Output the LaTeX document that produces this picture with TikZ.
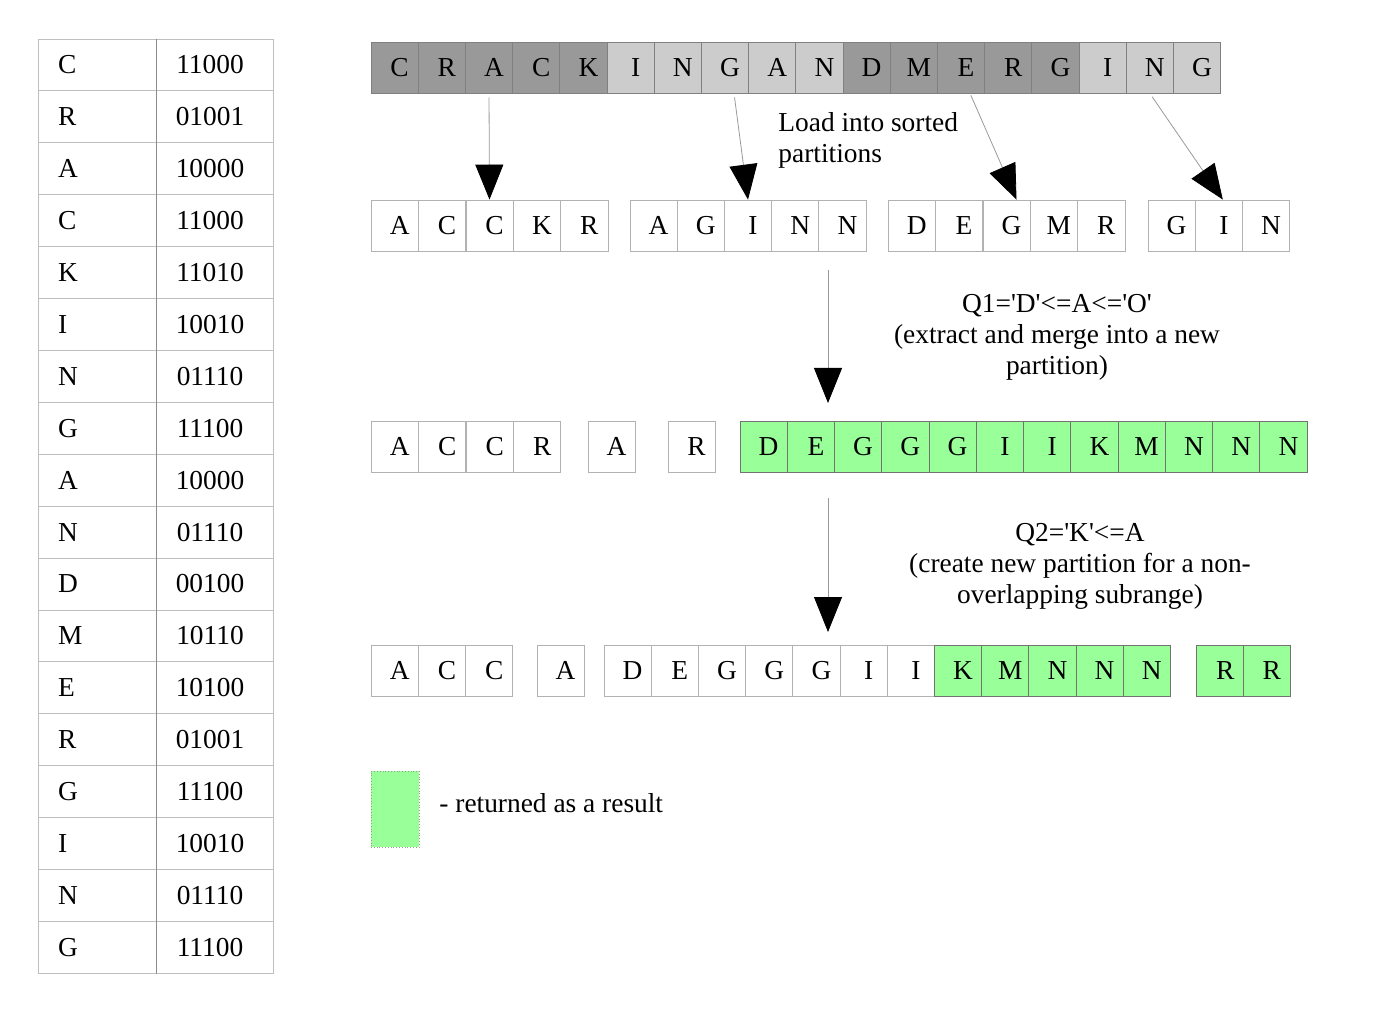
\documentclass[tikz,border=0pt]{standalone}
\usepackage{fontspec}
\setmainfont{Liberation Serif}
\usetikzlibrary{arrows.meta}
\definecolor{hitgreen}{HTML}{99FF99}
\definecolor{darkpart}{HTML}{999999}
\definecolor{lightpart}{HTML}{CCCCCC}
\tikzstyle{cell} = [draw=black!30, rectangle, minimum width=23.6pt, minimum height=25.5pt, inner sep=0pt, execute at begin node={\kern5pt}]
\tikzstyle{darkcell} = [cell, fill=darkpart, draw=black!50]
\tikzstyle{lightcell} = [cell, fill=lightpart, draw=black!50]
\tikzstyle{plaincell} = [cell, fill=white]
\tikzstyle{hitcell} = [cell, fill=hitgreen, draw=black!55]
\tikzstyle{keycell} = [draw=black!25, rectangle, minimum height=25.95pt, inner xsep=10pt, text width=39pt, align=left]
\tikzstyle{codecell} = [draw=black!25, rectangle, minimum height=25.95pt, minimum width=58.5pt, execute at end node={\kern4.5pt}]
\tikzstyle{loadarrow} = [draw=black!40, -{Triangle[length=17.5pt, width=14pt, color=black]}]

\begin{document}
\begin{tikzpicture}[x=0.5pt, y=-0.5pt, font=\fontsize{13.7}{15.5}\selectfont]
\useasboundingbox (0,0) rectangle (1379,1031);

% letter codes
\foreach \k/\c [count=\i] in {C/11000, R/01001, A/10000, C/11000, K/11010, I/10010,
    N/01110, G/11100, A/10000, N/01110, D/00100, M/10110, E/10100, R/01001,
    G/11100, I/10010, N/01110, G/11100} {
  \node[keycell] (key\i) at (97, {39+51.9*(\i-0.5)}) {\k};
  \node[codecell] (code\i) at (214.5, {39+51.9*(\i-0.5)}) {\c};
}
\draw[black!45] (key1.north east) -- (key18.south east);

% input column
\foreach \l/\s [count=\i] in {C/darkcell, R/darkcell, A/darkcell, C/darkcell, K/darkcell,
    I/lightcell, N/lightcell, G/lightcell, A/lightcell, N/lightcell,
    D/darkcell, M/darkcell, E/darkcell, R/darkcell, G/darkcell,
    I/lightcell, N/lightcell, G/lightcell}
  \node[\s] (top\i) at ({371+47.2*(\i-0.5)}, 67.5) {\l};

% sorted partitions
\foreach \l [count=\i] in {A,C,C,K,R}
  \node[plaincell] (pa\i) at ({371+47.4*(\i-0.5)}, 225.5) {\l};
\foreach \l [count=\i] in {A,G,I,N,N}
  \node[plaincell] (pb\i) at ({630+47.2*(\i-0.5)}, 225.5) {\l};
\foreach \l [count=\i] in {D,E,G,M,R}
  \node[plaincell] (pc\i) at ({888+47.4*(\i-0.5)}, 225.5) {\l};
\foreach \l [count=\i] in {G,I,N}
  \node[plaincell] (pd\i) at ({1148+47.2*(\i-0.5)}, 225.5) {\l};

\draw[loadarrow, shorten <=2pt] (top3.south) -- (pa3.north);
\draw[loadarrow, shorten <=2pt] ([xshift=4.5pt]top8.south) -- (pb3.north);
\draw[loadarrow, shorten <=1pt] ([xshift=4.5pt]top13.south) -- ([xshift=5pt]pc3.north);
\draw[loadarrow, shorten <=2pt] (top17.south) -- ([xshift=2pt]pd2.north);

\node[anchor=west, align=left, inner xsep=0pt] (loadtxt) at (778, 140.5) {Load into sorted\\partitions};

% after Q1
\coordinate (qa1) at (828, 270);
\coordinate (qa2) at (828, 403);
\draw[loadarrow] (qa1) -- (qa2);
\node[align=center] (q1txt) at (1057, 337.5) {Q1=\textquotesingle D\textquotesingle<=A<=\textquotesingle O\textquotesingle\\(extract and merge into a new\\partition)};

\foreach \l [count=\i] in {A,C,C,R}
  \node[plaincell] (ra\i) at ({371+47.5*(\i-0.5)}, 446.5) {\l};
\node[plaincell] (rb1) at (611.5, 446.5) {A};
\node[plaincell] (rc1) at (691.5, 446.5) {R};
\foreach \l [count=\i] in {D,E,G,G,G,I,I,K,M,N,N,N}
  \node[hitcell] (rd\i) at ({740+47.25*(\i-0.5)}, 446.5) {\l};

% after Q2
\coordinate (qb1) at (828, 498);
\coordinate (qb2) at (828, 632);
\draw[loadarrow] (qb1) -- (qb2);
\node[align=center] (q2txt) at (1080, 566) {Q2=\textquotesingle K\textquotesingle<=A\\(create new partition for a non-\\overlapping subrange)};

\foreach \l [count=\i] in {A,C,C}
  \node[plaincell] (sa\i) at ({371+47.3*(\i-0.5)}, 670.5) {\l};
\node[plaincell] (sb1) at (560.5, 670.5) {A};
\foreach \l/\s [count=\i] in {D/plaincell, E/plaincell, G/plaincell, G/plaincell,
    G/plaincell, I/plaincell, I/plaincell, K/hitcell, M/hitcell, N/hitcell,
    N/hitcell, N/hitcell}
  \node[\s] (sc\i) at ({604+47.2*(\i-0.5)}, 670.5) {\l};
\foreach \l [count=\i] in {R,R}
  \node[hitcell] (sd\i) at ({1197+46.5*(\i-0.5)}, 670.5) {\l};

% legend
\node[rectangle, fill=hitgreen, draw=black!40, densely dotted, minimum width=24pt, minimum height=38pt] (legbox) at (395, 809) {};
\node[anchor=west, inner xsep=0pt] (legtxt) at (439, 803) {- returned as a result};
\end{tikzpicture}
\end{document}
